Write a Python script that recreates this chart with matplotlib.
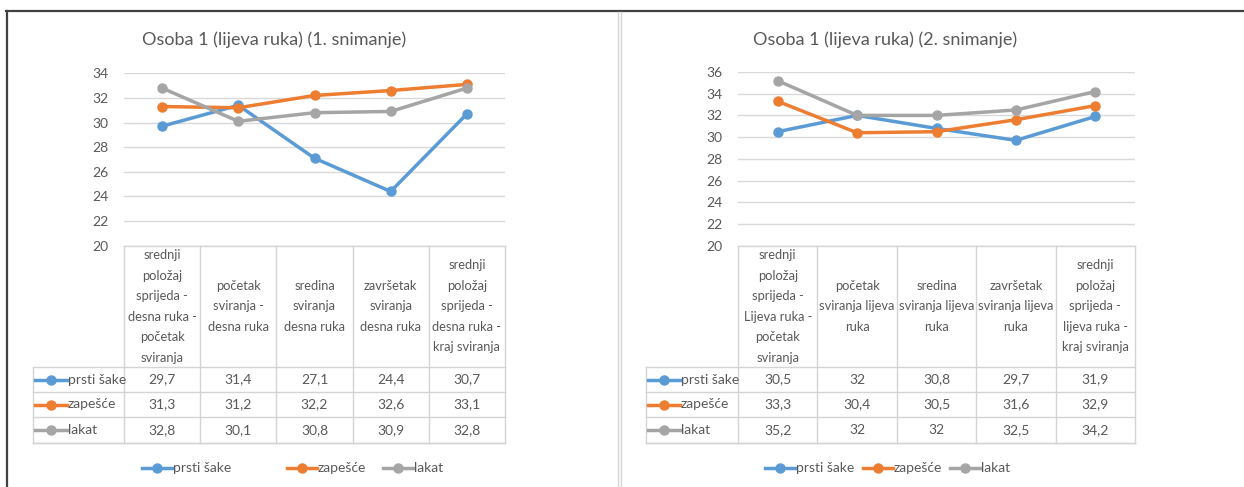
import matplotlib
matplotlib.use("Agg")
import matplotlib.pyplot as plt
from matplotlib.lines import Line2D
import matplotlib.transforms as mtransforms

plt.rcParams['font.family'] = ['Lato', 'DejaVu Sans']

W, H = 1244, 487

# ---------------- data ----------------
series_names = ["prsti šake", "zapešće", "lakat"]
colors = ["#5B9BD5", "#ED7D31", "#A5A5A5"]

title1 = "Osoba 1 (lijeva ruka) (1. snimanje)"
categories1 = [
    "srednji\npoložaj\nsprijeda -\ndesna ruka -\npočetak\nsviranja",
    "početak\nsviranja -\ndesna ruka",
    "sredina\nsviranja\ndesna ruka",
    "završetak\nsviranja\ndesna ruka",
    "srednji\npoložaj\nsprijeda -\ndesna ruka -\nkraj sviranja",
]
prsti1 = [29.7, 31.4, 27.1, 24.4, 30.7]
zapesce1 = [31.3, 31.2, 32.2, 32.6, 33.1]
lakat1 = [32.8, 30.1, 30.8, 30.9, 32.8]
yticks1 = [20, 22, 24, 26, 28, 30, 32, 34]

title2 = "Osoba 1 (lijeva ruka) (2. snimanje)"
categories2 = [
    "srednji\npoložaj\nsprijeda -\nLijeva ruka -\npočetak\nsviranja",
    "početak\nsviranja lijeva\nruka",
    "sredina\nsviranja lijeva\nruka",
    "završetak\nsviranja lijeva\nruka",
    "srednji\npoložaj\nsprijeda -\nlijeva ruka -\nkraj sviranja",
]
prsti2 = [30.5, 32.0, 30.8, 29.7, 31.9]
zapesce2 = [33.3, 30.4, 30.5, 31.6, 32.9]
lakat2 = [35.2, 32.0, 32.0, 32.5, 34.2]
yticks2 = [20, 22, 24, 26, 28, 30, 32, 34, 36]

TXT = "#595959"
GRID = "#D9D9D9"
TBL = "#D4D4D4"
FS = 9.3
FS2 = 10
LW = 2.5
MS = 6.5

fig = plt.figure(figsize=(W / 100, H / 100), dpi=100)
fig.patch.set_facecolor("white")


def fx(x):
    return x / W


def fy(y):
    return 1 - y / H


def fmt(v):
    return f"{v:g}".replace(".", ",")


def chart(title, title_cx, cats, series, yticks, box, label_left, header_bottom,
          row_ys, table_bottom, legend_items):
    x0, y0, x1, y1 = box
    ax = fig.add_axes([fx(x0), fy(y1), fx(x1) - fx(x0), fy(y0) - fy(y1)])
    n = len(cats)
    xs = list(range(n))
    ax.set_xlim(-0.5, n - 0.5)
    ax.set_ylim(yticks[0], yticks[-1])
    ax.set_yticks(yticks)
    ax.set_xticks([])
    for s in ax.spines.values():
        s.set_visible(False)
    ax.grid(axis="y", color=GRID, linewidth=1)
    ax.set_axisbelow(True)
    ax.tick_params(axis="y", length=0, labelsize=10, labelcolor=TXT, pad=11)
    for vals, c in zip(series, colors):
        ax.plot(xs, vals, color=c, linewidth=LW, marker="o", markersize=MS,
                solid_capstyle="round", zorder=3)

    fig.text(fx(title_cx), fy(40), title, ha="center", va="center",
             fontsize=13, color=TXT)

    bt = mtransforms.blended_transform_factory(ax.transData, fig.transFigure)
    top = fy(y1)
    hb = fy(header_bottom)
    tb = fy(table_bottom)
    lx = fx(label_left)
    fig.add_artist(Line2D([fx(x0), fx(x1)], [top, top], color=TBL, lw=1))
    for yy in [header_bottom] + row_ys[1:] + [table_bottom]:
        fig.add_artist(Line2D([lx, fx(x1)], [fy(yy), fy(yy)], color=TBL, lw=1))
    for i in range(n + 1):
        xv = ax.transData.transform((i - 0.5, 0))[0] / W
        fig.add_artist(Line2D([xv, xv], [top, tb], color=TBL, lw=1))
    fig.add_artist(Line2D([lx, lx], [hb, tb], color=TBL, lw=1))
    for i, c in enumerate(cats):
        t = fig.text(0, (top + hb) / 2, c, transform=bt, ha="center",
                     va="center", fontsize=FS, color=TXT, linespacing=1.85)
        t.set_x(i)
    for r, (name, vals, col) in enumerate(zip(series_names, series, colors)):
        ym = fy((row_ys[r] + row_ys[r + 1]) / 2)
        for i, v in enumerate(vals):
            fig.text(i, ym, fmt(v), transform=bt, ha="center", va="center",
                     fontsize=FS2, color=TXT)
        kx0 = label_left + 2
        fig.add_artist(Line2D([fx(kx0), fx(kx0 + 32)], [ym, ym], color=col,
                              lw=LW))
        fig.add_artist(Line2D([fx(kx0 + 16)], [ym], color=col, marker="o",
                              markersize=MS, lw=0))
        fig.text(fx(kx0 + 33), ym, name, ha="left", va="center",
                 fontsize=FS2, color=TXT)

    for (lx0, name), col in zip(legend_items, colors):
        fig.add_artist(Line2D([fx(lx0), fx(lx0 + 30)], [fy(468), fy(468)],
                              color=col, lw=LW))
        fig.add_artist(Line2D([fx(lx0 + 15)], [fy(468)], color=col,
                              marker="o", markersize=MS, lw=0))
        fig.text(fx(lx0 + 31), fy(468), name, ha="left", va="center",
                 fontsize=FS2, color=TXT)
    return ax


chart(title1, 274, categories1, [prsti1, zapesce1, lakat1], yticks1,
      (124, 73.3, 505, 245.6), 33, 367, [367, 392, 417, 443], 443,
      [(142, series_names[0]), (287, series_names[1]), (383, series_names[2])])

chart(title2, 885, categories2, [prsti2, zapesce2, lakat2], yticks2,
      (738, 72, 1135, 245.6), 646, 367, [367, 392, 417, 443], 443,
      [(765, series_names[0]), (863, series_names[1]), (950, series_names[2])])

fig.add_artist(Line2D([fx(6), fx(1244)], [fy(11), fy(11)], color="#404040", lw=1.6))
fig.add_artist(Line2D([fx(7), fx(7)], [fy(11), fy(487)], color="#404040", lw=1.6))
fig.add_artist(Line2D([fx(618), fx(618)], [fy(12), fy(487)], color="#D6D6D6", lw=1))
fig.add_artist(Line2D([fx(621), fx(621)], [fy(12), fy(487)], color="#D6D6D6", lw=1))

fig.savefig("out.png", dpi=100, facecolor="white")
